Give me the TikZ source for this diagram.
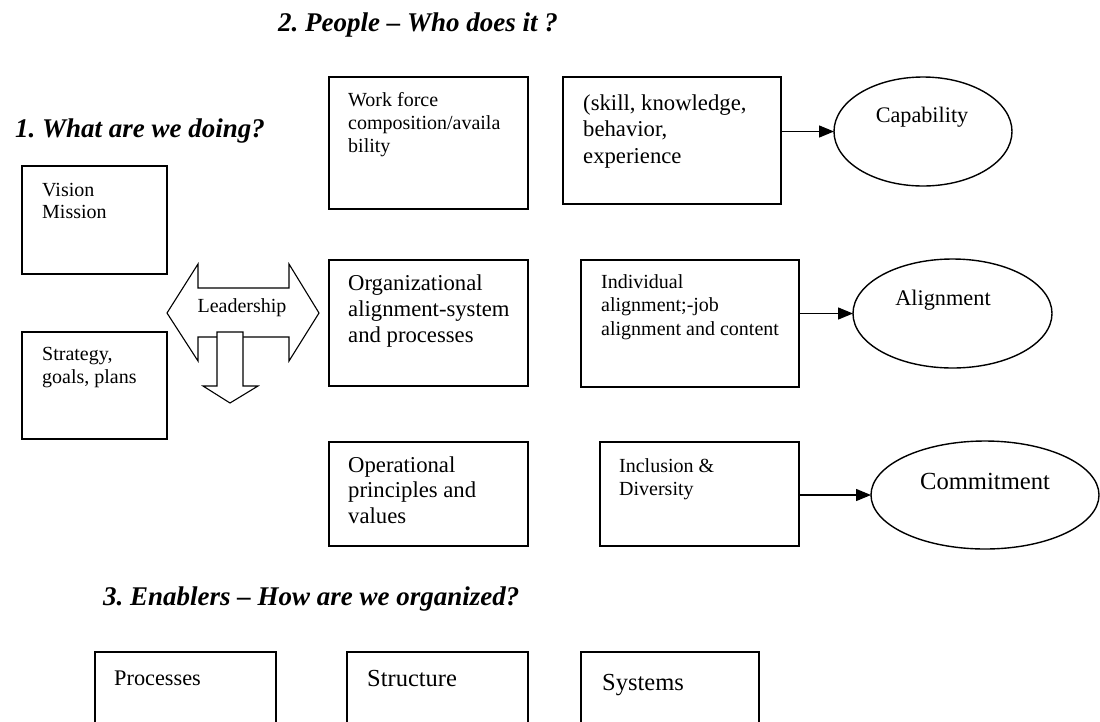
\documentclass[tikz,border=0pt]{standalone}
\usepackage{fontspec}
\setmainfont{Liberation Serif}
\usetikzlibrary{shapes.geometric,arrows.meta}
\frenchspacing
% left-aligned block of lines whose baseline is that of its first line
\newcommand\mlines[1]{\begin{tabular}[t]{@{}l@{}}#1\end{tabular}}
\begin{document}
\begin{tikzpicture}[x=1pt,y=-1pt,
  frame/.style={draw, line width=1.4pt, inner sep=0pt, outer sep=0pt, anchor=north west},
  oval/.style={draw, ellipse, line width=1.4pt, inner sep=0pt, outer sep=0pt},
  txt/.style={anchor=base west, inner sep=0pt, font=\fontsize{20}{23}\selectfont},
  txtl/.style={anchor=base west, inner sep=0pt, font=\fontsize{22.7}{26}\selectfont},
  ctxt/.style={anchor=base, inner sep=0pt},
  head/.style={anchor=base west, inner sep=0pt, font=\fontsize{27}{31}\selectfont\bfseries\itshape},
  link/.style={line width=1.4pt, -{Triangle[length=15pt,width=12pt]}},
  bigarrow/.style={draw, line width=1.1pt, fill=white, line join=miter},
]
\useasboundingbox (0,0) rectangle (1100,721);
\fill[white] (0,0) rectangle (1100,721);
\clip (0,0) rectangle (1100,721);

% section headings
\node[head] (h2) at (278,31) {2. People – Who does it ?};
\node[head] (h1) at (15,137) {1. What are we doing?};
\node[head] (h3) at (103,605) {3. Enablers – How are we organized?};

% column 1: direction
\node[frame, minimum width=145pt, minimum height=108pt] (vision) at (22,166) {};
\node[txt, font=\fontsize{20}{22}\selectfont] (visionT) at (42,196) {\mlines{Vision\\Mission}};
\node[frame, minimum width=145pt, minimum height=107pt] (strategy) at (22,332) {};
\node[txt] (strategyT) at (42,360) {\mlines{Strategy,\\goals, plans}};

% leadership double arrow with downward branch
\path[bigarrow] (167,313) -- (198,264) -- (198,288) -- (289,288) -- (289,264)
  -- (319,313) -- (289,361) -- (289,337) -- (198,337) -- (198,361) -- cycle;
\path[bigarrow] (217,332) -- (243,332) -- (243,386) -- (258,386) -- (230,403)
  -- (203,386) -- (217,386) -- cycle;
\node[ctxt, font=\fontsize{20}{23}\selectfont] (lead) at (242,312) {Leadership};

% column 2: organisation
\node[frame, minimum width=199pt, minimum height=132pt] (workforce) at (329,77) {};
\node[txt] (workforceT) at (348,106) {\mlines{Work force\\composition/availa\\bility}};
\node[frame, minimum width=199pt, minimum height=126pt] (orgalign) at (329,260) {};
\node[txtl] (orgalignT) at (348,290) {\mlines{Organizational\\alignment-system\\and processes}};
\node[frame, minimum width=199pt, minimum height=104pt] (operational) at (329,442) {};
\node[txtl, font=\fontsize{22.7}{25.5}\selectfont] (operationalT) at (348,472) {\mlines{Operational\\principles and\\values}};

% column 3: people
\node[frame, minimum width=218pt, minimum height=127pt] (skill) at (563,77) {};
\node[txtl, font=\fontsize{22.7}{26.5}\selectfont] (skillT) at (583,110) {\mlines{(skill, knowledge,\\behavior,\\experience}};
\node[frame, minimum width=218pt, minimum height=127pt] (indiv) at (581,260) {};
\node[txt, font=\fontsize{20}{23.5}\selectfont] (indivT) at (601,288) {\mlines{Individual\\alignment;-job\\alignment and content}};
\node[frame, minimum width=199pt, minimum height=104pt] (incl) at (600,442) {};
\node[txt] (inclT) at (619,472) {\mlines{Inclusion \&\\Diversity}};

% outcomes
\node[oval, minimum width=178pt, minimum height=109pt] (cap) at (923,131.5) {};
\node[ctxt, font=\fontsize{22.2}{26}\selectfont] (capT) at (922,122) {Capability};
\node[oval, minimum width=199pt, minimum height=109pt] (align) at (952.5,313.5) {};
\node[ctxt, font=\fontsize{22.3}{26}\selectfont] (alignT) at (943,305) {Alignment};
\node[oval, minimum width=228pt, minimum height=108pt] (commit) at (985,495) {};
\node[ctxt, font=\fontsize{24.6}{28}\selectfont] (commitT) at (985,489) {Commitment};

\draw[link] (cap.west -| skill.east) -- (cap.west);
\draw[link] (align.west -| indiv.east) -- (align.west);
\draw[link] (commit.west -| incl.east) -- (commit.west);

% enablers
\node[frame, minimum width=181pt, minimum height=110pt] (processes) at (95,652) {};
\node[txt, font=\fontsize{22.3}{26}\selectfont] (processesT) at (114,685) {Processes};
\node[frame, minimum width=181pt, minimum height=110pt] (structure) at (347,652) {};
\node[txt, font=\fontsize{24.5}{28}\selectfont] (structureT) at (367,686) {Structure};
\node[frame, minimum width=178pt, minimum height=110pt] (systems) at (581,652) {};
\node[txt, font=\fontsize{24.5}{28}\selectfont] (systemsT) at (602,690) {Systems};
\end{tikzpicture}
\end{document}
